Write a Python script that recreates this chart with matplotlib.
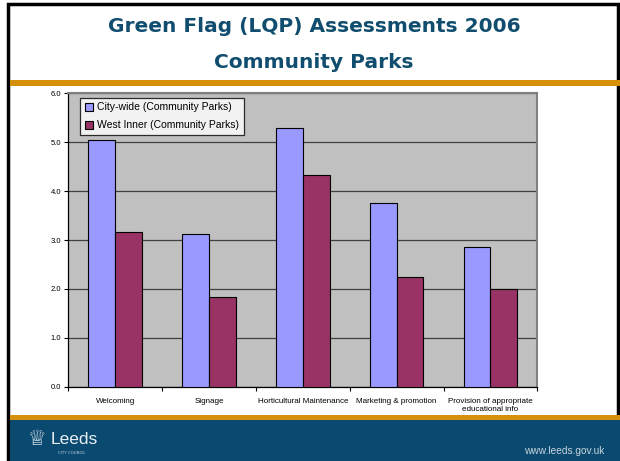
import numpy as np
import matplotlib.pyplot as plt
from matplotlib.patches import Rectangle

categories = ["Welcoming", "Signage", "Horticultural Maintenance",
              "Marketing & promotion", "Provision of appropriate\neducational info"]
city_wide = [5.05, 3.12, 5.29, 3.76, 2.86]
west_inner = [3.17, 1.84, 4.32, 2.24, 2.00]
series_names = ["City-wide (Community Parks)", "West Inner (Community Parks)"]
y_ticks = [0.0, 1.0, 2.0, 3.0, 4.0, 5.0, 6.0]

W, H = 620, 461
fig = plt.figure(figsize=(W / 100, H / 100), dpi=100)
fig.patch.set_facecolor("white")

def px(x0, y0, x1, y1):
    # pixel box (top-left origin) -> figure fraction rect
    return [x0 / W, 1 - y1 / H, (x1 - x0) / W, (y1 - y0) / H]

# slide decoration
bg = fig.add_axes([0, 0, 1, 1])
bg.set_xlim(0, W)
bg.set_ylim(H, 0)
bg.axis("off")
bg.add_patch(Rectangle((8, 4), 610, 460, facecolor="white", edgecolor="black", lw=2.5))
bg.add_patch(Rectangle((10, 80), 610, 6, facecolor="#d4900a", edgecolor="none"))
bg.add_patch(Rectangle((10, 415), 610, 5, facecolor="#d4900a", edgecolor="none"))
bg.add_patch(Rectangle((10, 420), 610, 41, facecolor="#0b4a70", edgecolor="none"))
bg.text(314, 26.5, "Green Flag (LQP) Assessments 2006", ha="center", va="center",
        fontsize=14.5, fontweight="bold", color="#104d6e", family="DejaVu Sans")
bg.text(314, 62, "Community Parks", ha="center", va="center",
        fontsize=14.5, fontweight="bold", color="#104d6e", family="DejaVu Sans")
bg.text(37, 439, "\u2655", ha="center", va="center", fontsize=15, color="#dde6ee")
bg.text(51, 439, "Leeds", ha="left", va="center", fontsize=12.5, color="#e8eef3",
        family="Liberation Sans")
bg.text(72, 452.5, "CITY COUNCIL", ha="center", va="center", fontsize=2.8,
        color="#c8d4de", family="DejaVu Sans")
bg.text(604, 450.5, "www.leeds.gov.uk", ha="right", va="center", fontsize=7.3,
        color="#c8d4de", family="Liberation Sans")

ax = fig.add_axes(px(68.3, 93.3, 537.3, 386.7))
ax.set_facecolor("#c0c0c0")

x = np.arange(len(categories))
bw = 1 / 3.5
ax.bar(x - bw / 2, city_wide, bw, color="#9999ff", edgecolor="black", lw=0.8,
       label=series_names[0], zorder=3)
ax.bar(x + bw / 2, west_inner, bw, color="#993366", edgecolor="black", lw=0.8,
       label=series_names[1], zorder=3)

ax.set_xlim(-0.5, len(categories) - 0.5)
ax.set_ylim(0, 6)
ax.set_yticks(y_ticks)
ax.set_yticklabels(["%.1f" % v for v in y_ticks], fontsize=5.5, family="Liberation Sans")
ax.yaxis.grid(True, color="#404040", lw=0.9, zorder=1)

ax.set_xticks(x)
ax.set_xticklabels(categories, fontsize=5.8, family="Liberation Sans")
ax.set_xticks(np.arange(len(categories) + 1) - 0.5, minor=True)
ax.tick_params(axis="x", which="major", length=0, pad=8)
ax.tick_params(axis="x", which="minor", length=3, width=0.8, direction="out")
ax.tick_params(axis="y", length=3, width=0.8, direction="out", pad=2)

for s in ["top", "right"]:
    ax.spines[s].set_color("#808080")
    ax.spines[s].set_linewidth(1.5)
for s in ["left", "bottom"]:
    ax.spines[s].set_color("black")
    ax.spines[s].set_linewidth(0.9)

leg = ax.legend(loc="upper left", bbox_to_anchor=(0.025, 0.985),
                prop={"family": "Liberation Sans", "size": 7.5},
                frameon=True, fancybox=False, handlelength=0.8, handleheight=0.8,
                handletextpad=0.4, borderpad=0.45, labelspacing=0.75,
                borderaxespad=0)
leg.get_frame().set_edgecolor("black")
leg.get_frame().set_linewidth(0.9)

fig.savefig("out.png", dpi=100)
